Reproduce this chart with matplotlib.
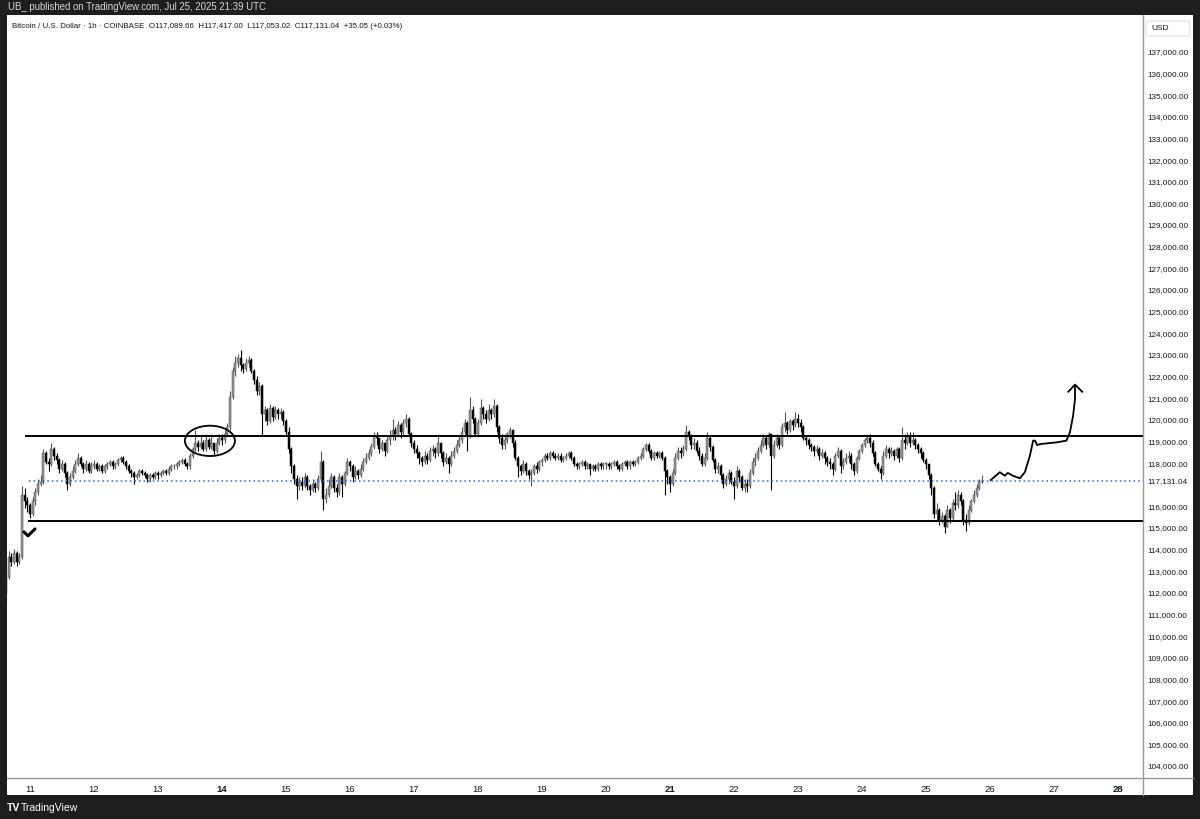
#!/usr/bin/env python3
import matplotlib
matplotlib.use('agg')
import matplotlib.pyplot as plt
from matplotlib.patches import Ellipse, Rectangle, FancyBboxPatch
from matplotlib.lines import Line2D
import numpy as np

# hourly BTC/USD candles (thousands of USD), first candle Jul 10 15:00 UTC
first_open = 111.9
first_hour = -9  # hours relative to Jul 11 00:00

close_days = [
    # Jul 10 (15:00-23:00)
    [112.7, 113.6, 113.4, 113.8, 113.4, 113.6, 116.5, 116.2, 116.0],
    # Jul 11
    [115.6, 116.2, 116.6, 117.0, 117.1, 118.4, 118.0, 117.9, 118.6, 118.3, 118.1, 117.7,
     117.9, 117.5, 117.0, 117.3, 117.6, 117.9, 118.2, 117.9, 117.7, 117.9, 117.6, 117.8],
    # Jul 12
    [117.9, 117.7, 117.8, 117.6, 117.8, 117.9, 118.0, 117.8, 117.9, 118.1, 118.2, 118.0,
     117.8, 117.6, 117.5, 117.3, 117.4, 117.6, 117.5, 117.4, 117.2, 117.4, 117.3, 117.5],
    # Jul 13
    [117.4, 117.5, 117.6, 117.5, 117.7, 117.8, 117.8, 117.9, 118.0, 118.1, 117.9, 117.8,
     118.3, 118.6, 118.9, 118.7, 118.9, 118.6, 119.0, 118.7, 118.9, 118.5, 118.9, 119.1],
    # Jul 14
    [119.0, 119.3, 119.6, 121.0, 122.2, 122.6, 122.8, 122.5, 122.3, 122.6, 122.7, 122.2,
     121.8, 121.3, 121.5, 120.2, 120.4, 119.9, 120.5, 120.1, 120.4, 120.2, 120.3, 119.9],
    # Jul 15
    [119.4, 118.6, 117.8, 117.2, 116.9, 117.1, 116.9, 117.3, 116.9, 116.7, 117.0, 116.8,
     117.2, 118.0, 116.3, 116.5, 116.9, 117.3, 116.8, 116.6, 117.3, 117.0, 117.5, 118.0],
    # Jul 16
    [117.8, 117.3, 117.6, 117.4, 117.7, 118.0, 118.2, 118.4, 118.7, 119.2, 119.1, 118.6,
     118.9, 118.5, 119.0, 119.2, 119.5, 119.3, 119.7, 119.4, 119.8, 120.0, 119.3, 118.9],
    # Jul 17
    [118.6, 118.4, 118.2, 118.0, 118.3, 118.1, 118.5, 118.6, 118.4, 118.9, 118.4, 118.0,
     118.2, 117.9, 118.3, 118.5, 118.8, 119.0, 119.4, 119.8, 119.2, 120.4, 120.0, 119.3],
    # Jul 18
    [119.8, 120.5, 120.2, 120.0, 120.4, 120.2, 120.6, 119.6, 119.1, 118.8, 119.0, 119.3,
     119.5, 118.9, 118.2, 117.8, 117.6, 117.9, 117.6, 117.4, 117.5, 117.8, 117.7, 118.0],
    # Jul 19
    [118.1, 118.3, 118.2, 118.4, 118.3, 118.2, 118.3, 118.1, 118.2, 118.3, 118.4, 118.2,
     117.9, 117.8, 117.9, 118.0, 117.8, 117.9, 117.7, 117.8, 117.7, 117.9, 117.8, 117.9],
    # Jul 20
    [117.9, 117.8, 117.9, 118.0, 117.8, 117.7, 117.9, 118.0, 117.8, 118.0, 117.9, 118.0,
     118.2, 118.3, 118.6, 118.8, 118.5, 118.2, 118.4, 118.3, 118.4, 118.2, 117.6, 117.3],
    # Jul 21
    [117.0, 117.5, 118.2, 118.5, 118.4, 118.6, 119.4, 119.2, 118.8, 118.9, 118.5, 118.3,
     117.9, 118.2, 119.1, 118.7, 118.1, 117.7, 117.8, 117.4, 117.0, 117.2, 117.5, 117.1],
    # Jul 22
    [116.9, 117.6, 117.3, 116.8, 117.0, 116.9, 117.5, 118.0, 118.2, 118.5, 118.8, 119.1,
     118.8, 119.3, 118.3, 118.8, 119.1, 118.8, 119.6, 119.8, 119.5, 119.9, 119.7, 120.0],
    # Jul 23
    [119.8, 119.6, 119.1, 119.0, 118.8, 118.7, 118.5, 118.6, 118.3, 118.4, 118.2, 118.0,
     117.9, 117.7, 118.3, 118.5, 117.8, 118.0, 118.2, 118.3, 117.9, 117.6, 118.2, 118.5],
    # Jul 24
    [118.8, 119.0, 119.1, 118.9, 118.4, 117.9, 117.7, 117.5, 118.3, 118.6, 118.4, 118.5,
     118.3, 118.6, 118.2, 119.0, 118.9, 119.2, 118.9, 119.0, 118.8, 118.6, 118.4, 118.1],
    # Jul 25 (00:00-21:00)
    [117.9, 117.4, 116.8, 115.6, 115.8, 115.3, 115.5, 115.0, 115.8, 115.4, 116.1, 116.0,
     116.5, 116.2, 115.3, 115.2, 115.8, 116.2, 116.5, 116.8, 117.08966, 117.13104],
]

high_days = [
    [113.0, 113.9, 113.8, 114.0, 113.9, 113.8, 116.9, 116.8, 116.4],
    [116.1, 116.4, 116.8, 117.2, 117.4, 118.6, 118.5, 118.2, 118.9, 118.7, 118.4, 118.2,
     118.1, 118.0, 117.6, 117.5, 117.8, 118.1, 118.4, 118.3, 118.0, 118.1, 118.0, 118.0],
    [118.1, 118.0, 117.9, 117.9, 117.9, 118.0, 118.1, 118.1, 118.0, 118.2, 118.3, 118.3,
     118.1, 117.9, 117.7, 117.6, 117.5, 117.7, 117.7, 117.6, 117.5, 117.5, 117.5, 117.6],
    [117.6, 117.6, 117.7, 117.7, 117.8, 117.9, 117.9, 118.0, 118.1, 118.2, 118.2, 118.0,
     118.4, 118.7, 119.5, 119.0, 119.2, 119.0, 119.3, 119.1, 119.3, 118.9, 119.1, 119.3],
    [119.3, 119.5, 119.8, 121.3, 122.4, 122.9, 123.0, 123.2, 122.6, 122.8, 122.9, 122.8,
     122.3, 122.0, 121.7, 121.6, 120.6, 120.5, 120.7, 120.6, 120.6, 120.5, 120.5, 120.4],
    [120.0, 119.6, 118.7, 117.9, 117.4, 117.3, 117.3, 117.5, 117.4, 117.0, 117.2, 117.1,
     117.4, 118.5, 118.1, 116.8, 117.2, 117.5, 117.4, 117.0, 117.5, 117.4, 117.6, 118.2],
    [118.1, 117.9, 117.8, 117.7, 117.9, 118.2, 118.4, 118.6, 118.9, 119.4, 119.4, 119.1,
     119.0, 118.9, 119.2, 119.5, 120.0, 119.6, 119.9, 119.8, 120.0, 120.2, 120.1, 119.4],
    [119.0, 118.8, 118.5, 118.3, 118.5, 118.4, 118.7, 118.8, 118.7, 119.3, 118.9, 118.5,
     118.4, 118.3, 118.5, 118.7, 119.0, 119.2, 119.6, 120.0, 119.9, 121.0, 120.6, 120.1],
    [120.0, 120.9, 120.6, 120.4, 120.7, 120.5, 120.9, 120.7, 119.7, 119.3, 119.2, 119.4,
     119.6, 119.5, 119.0, 118.3, 117.9, 118.1, 118.0, 117.7, 117.7, 117.9, 118.0, 118.1],
    [118.2, 118.4, 118.4, 118.5, 118.5, 118.4, 118.4, 118.4, 118.3, 118.4, 118.5, 118.5,
     118.3, 118.0, 118.0, 118.1, 118.1, 118.0, 117.9, 117.9, 117.9, 118.0, 118.0, 118.0],
    [118.0, 118.0, 118.0, 118.1, 118.1, 117.9, 118.0, 118.1, 118.1, 118.1, 118.1, 118.1,
     118.3, 118.4, 118.7, 118.9, 118.9, 118.6, 118.5, 118.5, 118.5, 118.5, 118.3, 117.7],
    [117.4, 117.7, 118.4, 118.7, 118.7, 118.8, 119.7, 119.5, 119.3, 119.1, 119.0, 118.7,
     118.4, 118.4, 119.4, 119.2, 118.8, 118.2, 118.0, 117.9, 117.5, 117.4, 117.7, 117.6],
    [117.3, 117.8, 117.7, 117.4, 117.2, 117.2, 117.7, 118.2, 118.4, 118.7, 119.0, 119.3,
     119.2, 119.4, 119.3, 119.0, 119.3, 119.2, 119.8, 120.3, 119.9, 120.0, 120.0, 120.3],
    [120.2, 120.0, 119.7, 119.2, 119.1, 118.9, 118.8, 118.8, 118.7, 118.6, 118.5, 118.3,
     118.2, 118.0, 118.4, 118.7, 118.6, 118.2, 118.4, 118.5, 118.4, 118.0, 118.3, 118.6],
    [118.9, 119.1, 119.2, 119.3, 119.0, 118.5, 118.0, 117.8, 118.5, 118.8, 118.7, 118.7,
     118.6, 118.7, 118.7, 119.6, 119.3, 119.4, 119.4, 119.4, 119.1, 118.9, 118.7, 118.5],
    [118.2, 117.9, 117.5, 116.9, 116.1, 115.9, 115.7, 115.6, 116.0, 115.9, 116.3, 116.6,
     116.7, 116.6, 116.3, 115.6, 116.0, 116.3, 116.7, 117.0, 117.2, 117.417],
]

low_days = [
    [111.4, 112.6, 113.2, 113.3, 113.2, 113.3, 113.5, 115.9, 115.7],
    [115.4, 115.5, 116.0, 116.5, 116.9, 117.0, 117.9, 117.6, 117.8, 118.1, 117.9, 117.5,
     117.6, 117.3, 116.7, 116.9, 117.2, 117.5, 117.8, 117.8, 117.5, 117.6, 117.5, 117.5],
    [117.7, 117.6, 117.6, 117.5, 117.5, 117.7, 117.8, 117.7, 117.7, 117.8, 118.0, 117.9,
     117.7, 117.5, 117.3, 117.0, 117.2, 117.3, 117.4, 117.3, 117.1, 117.1, 117.2, 117.2],
    [117.2, 117.3, 117.4, 117.4, 117.4, 117.6, 117.7, 117.7, 117.8, 117.9, 117.8, 117.7,
     117.7, 118.2, 118.5, 118.5, 118.6, 118.5, 118.5, 118.6, 118.6, 118.3, 118.4, 118.8],
    [118.8, 118.9, 119.2, 119.5, 120.9, 122.0, 122.4, 122.2, 122.1, 122.2, 122.4, 122.1,
     121.6, 121.1, 121.1, 119.2, 119.9, 119.7, 119.8, 119.9, 120.0, 120.0, 120.0, 119.7],
    [119.2, 118.4, 117.5, 117.0, 116.3, 116.7, 116.7, 116.8, 116.7, 116.5, 116.6, 116.6,
     116.7, 117.1, 115.8, 116.1, 116.4, 116.8, 116.6, 116.4, 116.5, 116.4, 116.9, 117.4],
    [117.6, 117.1, 117.2, 117.2, 117.3, 117.6, 117.9, 118.1, 118.3, 118.6, 118.8, 118.4,
     118.5, 118.3, 118.4, 118.8, 119.0, 119.0, 119.2, 119.1, 119.2, 119.6, 119.2, 118.7],
    [118.4, 118.2, 117.9, 117.8, 117.9, 117.9, 118.0, 118.3, 118.2, 118.3, 118.2, 117.8,
     117.9, 117.5, 117.8, 118.2, 118.4, 118.7, 118.9, 119.2, 118.5, 119.1, 119.8, 119.2],
    [119.2, 119.7, 120.0, 119.8, 119.9, 120.0, 120.1, 119.4, 118.9, 118.6, 118.6, 118.9,
     119.1, 118.7, 118.1, 117.3, 117.4, 117.5, 117.4, 117.2, 116.9, 117.4, 117.5, 117.6],
    [117.8, 118.0, 118.1, 118.1, 118.2, 118.1, 118.1, 118.0, 118.0, 118.1, 118.2, 118.1,
     117.8, 117.7, 117.7, 117.8, 117.7, 117.7, 117.4, 117.6, 117.6, 117.6, 117.7, 117.7],
    [117.7, 117.7, 117.7, 117.8, 117.7, 117.6, 117.6, 117.8, 117.7, 117.7, 117.8, 117.8,
     117.9, 118.1, 118.2, 118.5, 118.4, 118.1, 118.1, 118.2, 118.2, 118.1, 116.5, 117.0],
    [116.6, 116.9, 117.4, 118.1, 118.2, 118.3, 118.5, 119.0, 118.6, 118.6, 118.4, 118.1,
     117.8, 117.8, 118.1, 118.5, 118.0, 117.5, 117.5, 117.2, 116.8, 116.9, 117.0, 117.0],
    [116.3, 116.8, 117.1, 116.7, 116.6, 116.6, 116.8, 117.4, 117.8, 118.1, 118.4, 118.7,
     118.6, 118.7, 116.7, 118.2, 118.7, 118.6, 118.7, 119.4, 119.3, 119.4, 119.5, 119.6],
    [119.6, 119.4, 119.0, 118.8, 118.6, 118.5, 118.3, 118.4, 118.1, 118.2, 117.9, 117.8,
     117.7, 117.4, 117.6, 118.2, 117.5, 117.7, 117.9, 118.0, 117.7, 117.4, 117.5, 118.1],
    [118.4, 118.7, 118.9, 118.7, 118.3, 117.8, 117.6, 117.2, 117.4, 118.2, 118.2, 118.3,
     118.1, 118.2, 118.0, 118.1, 118.6, 118.8, 118.7, 118.8, 118.6, 118.4, 118.2, 118.0],
    [117.7, 117.2, 116.5, 115.4, 115.3, 115.1, 115.2, 114.7, 115.0, 115.2, 115.3, 115.8,
     115.9, 116.0, 115.1, 114.8, 115.1, 115.7, 116.1, 116.4, 116.7, 117.053],
]

day_labels = [str(d) for d in range(11, 29)]
bold_days = ["14", "21", "28"]
price_ticks = [p for p in range(104, 138) if p != 117]
last_price = 117.13104

# hand drawn lines on the chart
resistance = 119.19
support = 115.26
circle_center = (67.5, 118.98)
check_x = [-2.25, -0.75, 1.9]
check_y = [114.77, 114.59, 114.91]
path_x = [360.3, 363.7, 365.6, 366.7, 368.6, 371.2, 373.1, 375.0, 376.2, 376.9, 377.7,
          379.4, 385.0, 388.7, 390.0, 391.2, 391.9, 391.9]
path_y = [117.17, 117.53, 117.37, 117.50, 117.37, 117.25, 117.53, 118.30, 118.99, 118.99,
          118.79, 118.84, 118.91, 118.99, 119.38, 120.15, 120.92, 121.53]
arrow_x = [389.4, 391.9, 394.6]
arrow_y = [121.25, 121.58, 121.25]

W, H = 1200, 820
X0, X1 = -8.6, 417.4
Y0, Y1 = 103.40, 138.66
TXT = '#131722'


def fx(px):
    return px / W


def fy(py):
    return 1 - py / H


def main():
    plt.rcParams['font.family'] = ['Liberation Sans', 'DejaVu Sans']

    closes = np.array([c for d in close_days for c in d])
    highs = np.array([c for d in high_days for c in d])
    lows = np.array([c for d in low_days for c in d])
    opens = np.concatenate([[first_open], closes[:-1]])
    highs = np.maximum(highs, np.maximum(opens, closes))
    lows = np.minimum(lows, np.minimum(opens, closes))
    hours = np.arange(len(closes)) + first_hour

    fig = plt.figure(figsize=(12, 8.2), dpi=100, facecolor='#1e1e1e')
    fig.patches.append(Rectangle((fx(7), fy(796)), fx(1186), 780 / H, transform=fig.transFigure,
                                 facecolor='white', edgecolor='none', zorder=-5))

    ax = fig.add_axes([fx(7), fy(779), fx(1143 - 7), (779 - 16) / H])
    ax.set_zorder(3)
    ax.set_facecolor('white')
    for s in ax.spines.values():
        s.set_visible(False)
    ax.set_xlim(X0, X1)
    ax.set_ylim(Y0, Y1)

    up = closes >= opens
    dn = ~up
    ax.vlines(hours[up], lows[up], highs[up], color='#555555', lw=0.8, zorder=2)
    ax.vlines(hours[dn], lows[dn], highs[dn], color='#000000', lw=0.8, zorder=2)
    body_lo = np.minimum(opens, closes)
    body_h = np.maximum(np.abs(closes - opens), 0.04)
    ax.bar(hours[up], body_h[up], bottom=body_lo[up], width=0.75, color='#959595',
           edgecolor='#505050', linewidth=0.35, zorder=3)
    ax.bar(hours[dn], body_h[dn], bottom=body_lo[dn], width=0.75, color='#000000',
           edgecolor='#000000', linewidth=0.35, zorder=3)

    # drawings
    ax.plot([-1.5, X1], [resistance, resistance], color='black', lw=1.4, zorder=4)
    ax.plot([-0.4, X1], [support, support], color='black', lw=1.4, zorder=4)
    ax.plot([-0.4, X1], [last_price, last_price], color='#2962ff', lw=1.1,
            linestyle=(0, (1, 2)), zorder=4)
    ax.add_patch(Ellipse(circle_center, 18.75, 1.40, fill=False, color='black', lw=1.3, zorder=5))
    ax.plot(check_x, check_y, color='black', lw=2.2, solid_joinstyle='round',
            solid_capstyle='round', zorder=5)
    ax.plot(path_x, path_y, color='black', lw=1.3, solid_joinstyle='round', zorder=5)
    ax.plot(arrow_x, arrow_y, color='black', lw=1.3, solid_joinstyle='round', zorder=5)

    # axes ticks
    ax.set_xticks([i * 24 for i in range(len(day_labels))])
    ax.set_xticklabels(day_labels)
    for lab in ax.get_xticklabels():
        lab.set_fontweight('bold' if lab.get_text() in bold_days else 'normal')
    ax.tick_params(axis='x', length=0, pad=4, labelsize=6.8, colors=TXT)
    ax.set_yticks(price_ticks)
    ax.set_yticklabels([f"{p * 1000:,.2f}" for p in price_ticks])
    ax.yaxis.tick_right()
    ax.tick_params(axis='y', length=0, pad=3.5, labelsize=5.9, colors=TXT)
    for lab in ax.get_yticklabels():
        lab.set_horizontalalignment('left')
    ax.annotate(f"{last_price * 1000:,.2f}", xy=(1.0, last_price),
                xycoords=ax.get_yaxis_transform(), xytext=(3.5, 0), textcoords='offset points',
                ha='left', va='center', fontsize=5.9, color=TXT, annotation_clip=False)

    # separators
    fig.add_artist(Line2D([fx(1143), fx(1143)], [fy(16), fy(796)], color='#9a9a9a', lw=1.0,
                          zorder=6))
    fig.add_artist(Line2D([fx(7), fx(1193)], [fy(779), fy(779)], color='#9a9a9a', lw=1.0,
                          zorder=6))

    fig.patches.append(FancyBboxPatch((fx(1146), fy(37)), fx(44), 15 / H, transform=fig.transFigure,
                                      boxstyle='round,pad=0,rounding_size=0.002',
                                      facecolor='white', edgecolor='#e0e0e0', lw=0.8, zorder=-4))
    fig.text(fx(1151), fy(29), "USD", fontsize=6.0, color=TXT, va='center', ha='left')

    fig.text(fx(8), fy(7.5), "UB_ published on TradingView.com, Jul 25, 2025 21:39 UTC",
             fontsize=6.9, color='#d8d8d8', va='center', ha='left')
    fig.text(fx(12), fy(27),
             "Bitcoin / U.S. Dollar \u00b7 1h \u00b7 COINBASE  O117,089.66  H117,417.00  "
             "L117,053.02  C117,131.04  +35.05 (+0.03%)",
             fontsize=5.7, color=TXT, va='center', ha='left', zorder=10)
    fig.text(fx(7), fy(808), "TV", fontsize=7.5, color='white', fontweight='bold',
             va='center', ha='left')
    fig.text(fx(21), fy(808), "TradingView", fontsize=7.5, color='white', va='center', ha='left')

    fig.savefig("out.png", dpi=100, facecolor=fig.get_facecolor())
    plt.close("all")


if __name__ == "__main__":
    main()
